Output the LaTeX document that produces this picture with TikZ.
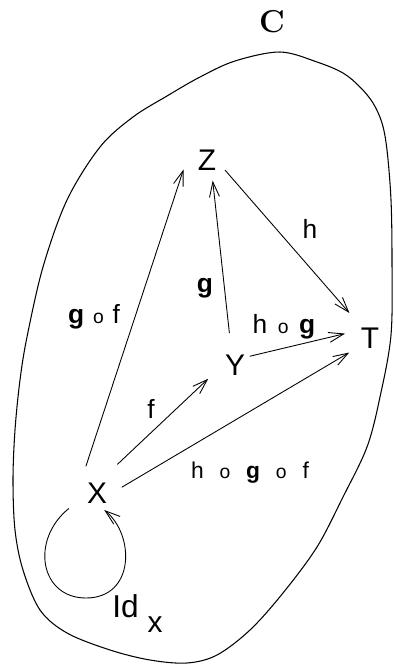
\documentclass[tikz,border=0pt]{standalone}
\usepackage{fontspec}
\setsansfont{Liberation Sans}
\usetikzlibrary{arrows.meta}

\newcommand{\comp}{{\fontsize{11}{11}\selectfont o}}

\begin{document}
\begin{tikzpicture}[
    x=0.02cm, y=-0.02cm,
    obj/.style={circle, inner sep=0pt, minimum size=1cm,
        font=\sffamily\fontsize{17}{17}\selectfont},
    lbl/.style={anchor=base, inner sep=0pt,
        font=\sffamily\fontsize{15}{15}\selectfont},
    arr/.style={-{Straight Barb[length=3mm, width=2mm]}, line width=0.5pt},
    border/.style={line width=0.6pt}
]
    \useasboundingbox (0,0) rectangle (394,667);

    % the category and its outline
    \node[font=\rmfamily\bfseries\fontsize{18}{18}\selectfont] (cat) at (272,22) {C};
    \draw[border] plot[smooth cycle, tension=0.55] coordinates {
        (280,52) (317,62) (343,73) (360,87) (373,103) (382,123) (387,150)
        (391,200) (392,260) (391,335) (380,397) (367,447) (343,497)
        (317,547) (283,593) (250,630) (217,655) (187,663) (150,660)
        (110,650) (67,633) (40,610) (23,570) (15,530) (13,480) (15,430)
        (20,380) (27,337) (43,267) (67,200) (100,147) (133,117) (167,96)
        (200,77) (235,61)};

    % objects
    \node[obj] (Z) at (207,160) {Z};
    \node[obj] (Y) at (235,365) {Y};
    \node[obj] (T) at (370,338) {T};
    \node[obj] (X) at (97,493) {X};

    % labels
    \node[lbl] (gf) at (94,323) {\textbf{g}\hspace{5pt}\comp\hspace{5pt}f};
    \node[lbl] (g) at (205,292) {\textbf{g}};
    \node[lbl] (h) at (310,238) {h};
    \node[lbl] (hg) at (284,333) {h\hspace{6pt}\comp\hspace{6pt}\textbf{g}};
    \node[lbl] (f) at (151,418) {f};
    \node[lbl, font=\sffamily\fontsize{13}{13}\selectfont] (hgf) at (250,478)
        {h\hspace{9pt}\comp\hspace{9pt}\textbf{g}\hspace{9pt}\comp\hspace{9pt}f};
    \node[lbl, anchor=base west, font=\sffamily\fontsize{18}{18}\selectfont] (id) at (112,617)
        {Id\hspace{5pt}\raisebox{-0.3cm}{\fontsize{17}{17}\selectfont x}};

    % morphisms
    \draw[arr, shorten <=0.1cm] (X.120) -- (Z.202);
    \draw[arr, shorten <=0.14cm, shorten >=-0.08cm] (Y.101) -- (Z.284);
    \draw[arr, shorten <=-0.1cm, shorten >=0.14cm] (Z.327) -- (T.129);
    \draw[arr, shorten <=-0.17cm] (Y.25) -- (T.170);
    \draw[arr, shorten <=0.2cm, shorten >=0.1cm] (X.59) -- (Y.204);
    \draw[arr] (X.13) -- (T.215);
    \draw[arr, shorten <=0.14cm, shorten >=-0.15cm] (X.206)
        .. controls (30,540) and (40,598) .. (86,598)
        .. controls (135,598) and (135,535) .. (X.301);
\end{tikzpicture}
\end{document}
